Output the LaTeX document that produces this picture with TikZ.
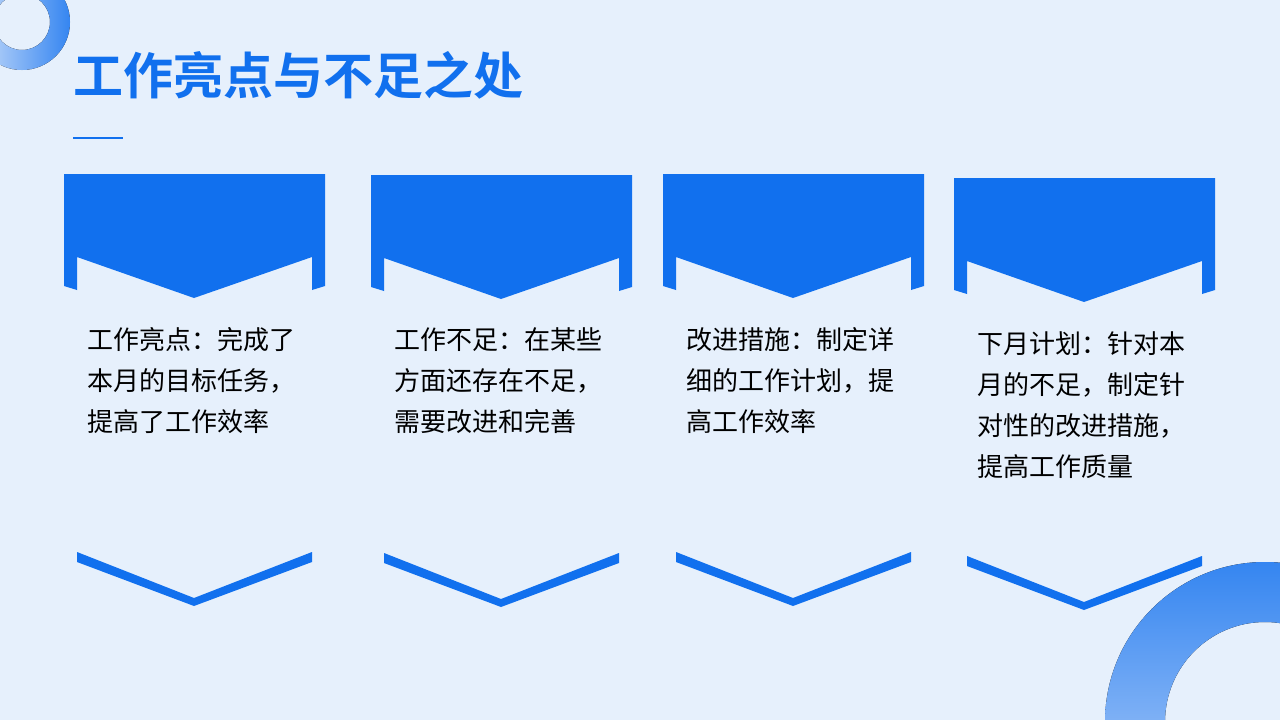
\documentclass[tikz,border=0pt]{standalone}
\usepackage{fontspec}
\newfontfamily\cjk{Noto Sans CJK SC}
\newfontfamily\cjkbold{Noto Sans CJK SC Bold}
\definecolor{mainblue}{HTML}{1170EE}
\definecolor{bgblue}{HTML}{E6F0FC}
\definecolor{paleblue}{HTML}{C8DCFA}
\tikzset{every picture/.style={line width=0.75pt}}
\tikzset{
  cardtext/.style={anchor=north west,inner sep=0pt,align=left,font=\cjk\fontsize{26}{41}\selectfont,text=black},
}
\newcommand{\topcard}[2]{%
  \fill [mainblue] (#1,#2) -- (#1+261,#2) -- (#1+261,#2+112) -- (#1+248,#2+116) -- (#1+248,#2+83)
    -- (#1+130,#2+124) -- (#1+13,#2+83) -- (#1+13,#2+116) -- (#1,#2+112) -- cycle ;}
\newcommand{\lowchevron}[2]{%
  \fill [mainblue] (#1+13,#2) -- (#1+130,#2+46) -- (#1+248,#2) -- (#1+248,#2+10)
    -- (#1+130,#2+54) -- (#1+13,#2+10) -- cycle ;}

\begin{document}
\begin{tikzpicture}[x=1pt,y=-1pt]

\fill [bgblue] (0,0) rectangle (1280,720) ;
\useasboundingbox (0,0) rectangle (1280,720) ;

% rings
\begin{scope}
\clip (0,0) rectangle (1280,720) ;
\fill [left color=paleblue,right color=mainblue!85,even odd rule] (22,22) circle (48) (22,22) circle (28) ;
\fill [top color=mainblue!85,bottom color=paleblue,even odd rule] (1265,722) circle (160) (1265,722) circle (100) ;
\end{scope}

% title
\node (title) [anchor=west,inner sep=0pt,text=mainblue,font=\cjkbold\fontsize{50}{50}\selectfont] at (73,75) {工作亮点与不足之处};
\draw [mainblue,line width=2.5] (73,138) -- (123,138) ;

% cards
\topcard{64}{174}
\topcard{371}{175}
\topcard{663}{174}
\topcard{954}{178}

\lowchevron{64}{552}
\lowchevron{371}{553}
\lowchevron{663}{552}
\lowchevron{954}{556}

\node (t1) [cardtext] at (87,327) {工作亮点：完成了\\本月的目标任务，\\提高了工作效率};
\node (t2) [cardtext] at (394,327) {工作不足：在某些\\方面还存在不足，\\需要改进和完善};
\node (t3) [cardtext] at (686,327) {改进措施：制定详\\细的工作计划，提\\高工作效率};
\node (t4) [cardtext] at (977,331) {下月计划：针对本\\月的不足，制定针\\对性的改进措施，\\提高工作质量};

\end{tikzpicture}
\end{document}
